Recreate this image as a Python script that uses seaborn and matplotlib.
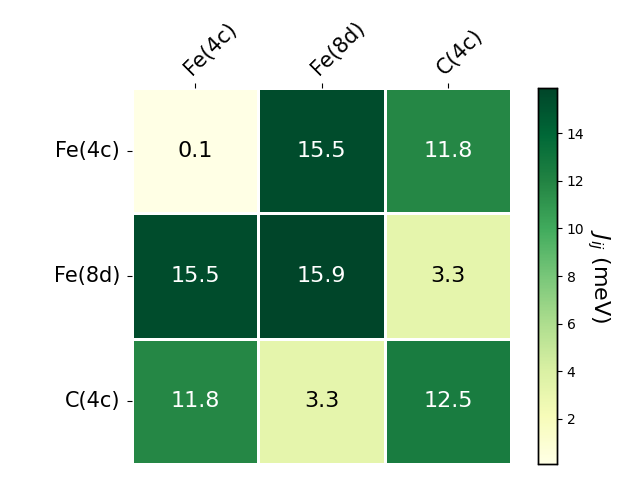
import matplotlib
matplotlib.use("Agg")
import matplotlib.pyplot as plt
import matplotlib.colors as mcolors
import seaborn as sns
import numpy as np
import pandas as pd

sites = ["Fe(4c)", "Fe(8d)", "C(4c)"]
row_fe4c = [0.1, 15.5, 11.8]
row_fe8d = [15.5, 15.9, 3.3]
row_c4c = [11.8, 3.3, 12.5]

df = pd.DataFrame([row_fe4c, row_fe8d, row_c4c], index=sites, columns=sites)

fig = plt.figure(figsize=(6.4, 4.8), dpi=100)
ax = fig.add_axes([132/640, 1-464/480, 379/640, 376/480])
cax = fig.add_axes([538/640, 1-464/480, 19/640, 376/480])

sns.heatmap(df, ax=ax, cbar_ax=cax, cmap="YlGn", annot=True, fmt=".1f",
            annot_kws={"fontsize": 16}, linewidths=2, linecolor="white")

for t in ax.texts:
    if mcolors.to_rgb(t.get_color())[0] < 0.5:
        t.set_color("black")

ax.xaxis.tick_top()
ax.set_xticklabels(sites, rotation=45, fontsize=15, ha="left", rotation_mode="anchor")
ax.set_yticklabels(sites, rotation=0, fontsize=15)
ax.tick_params(axis="y", pad=5)
ax.set_xlabel("")
ax.set_ylabel("")
cax.tick_params(labelsize=10)
cax.set_ylabel("$J_{ij}$ (meV)", rotation=270, fontsize=16, labelpad=20)
for s in cax.spines.values():
    s.set_visible(True)
    s.set_linewidth(1)
    s.set_color("black")

fig.savefig("out.png", dpi=100)
